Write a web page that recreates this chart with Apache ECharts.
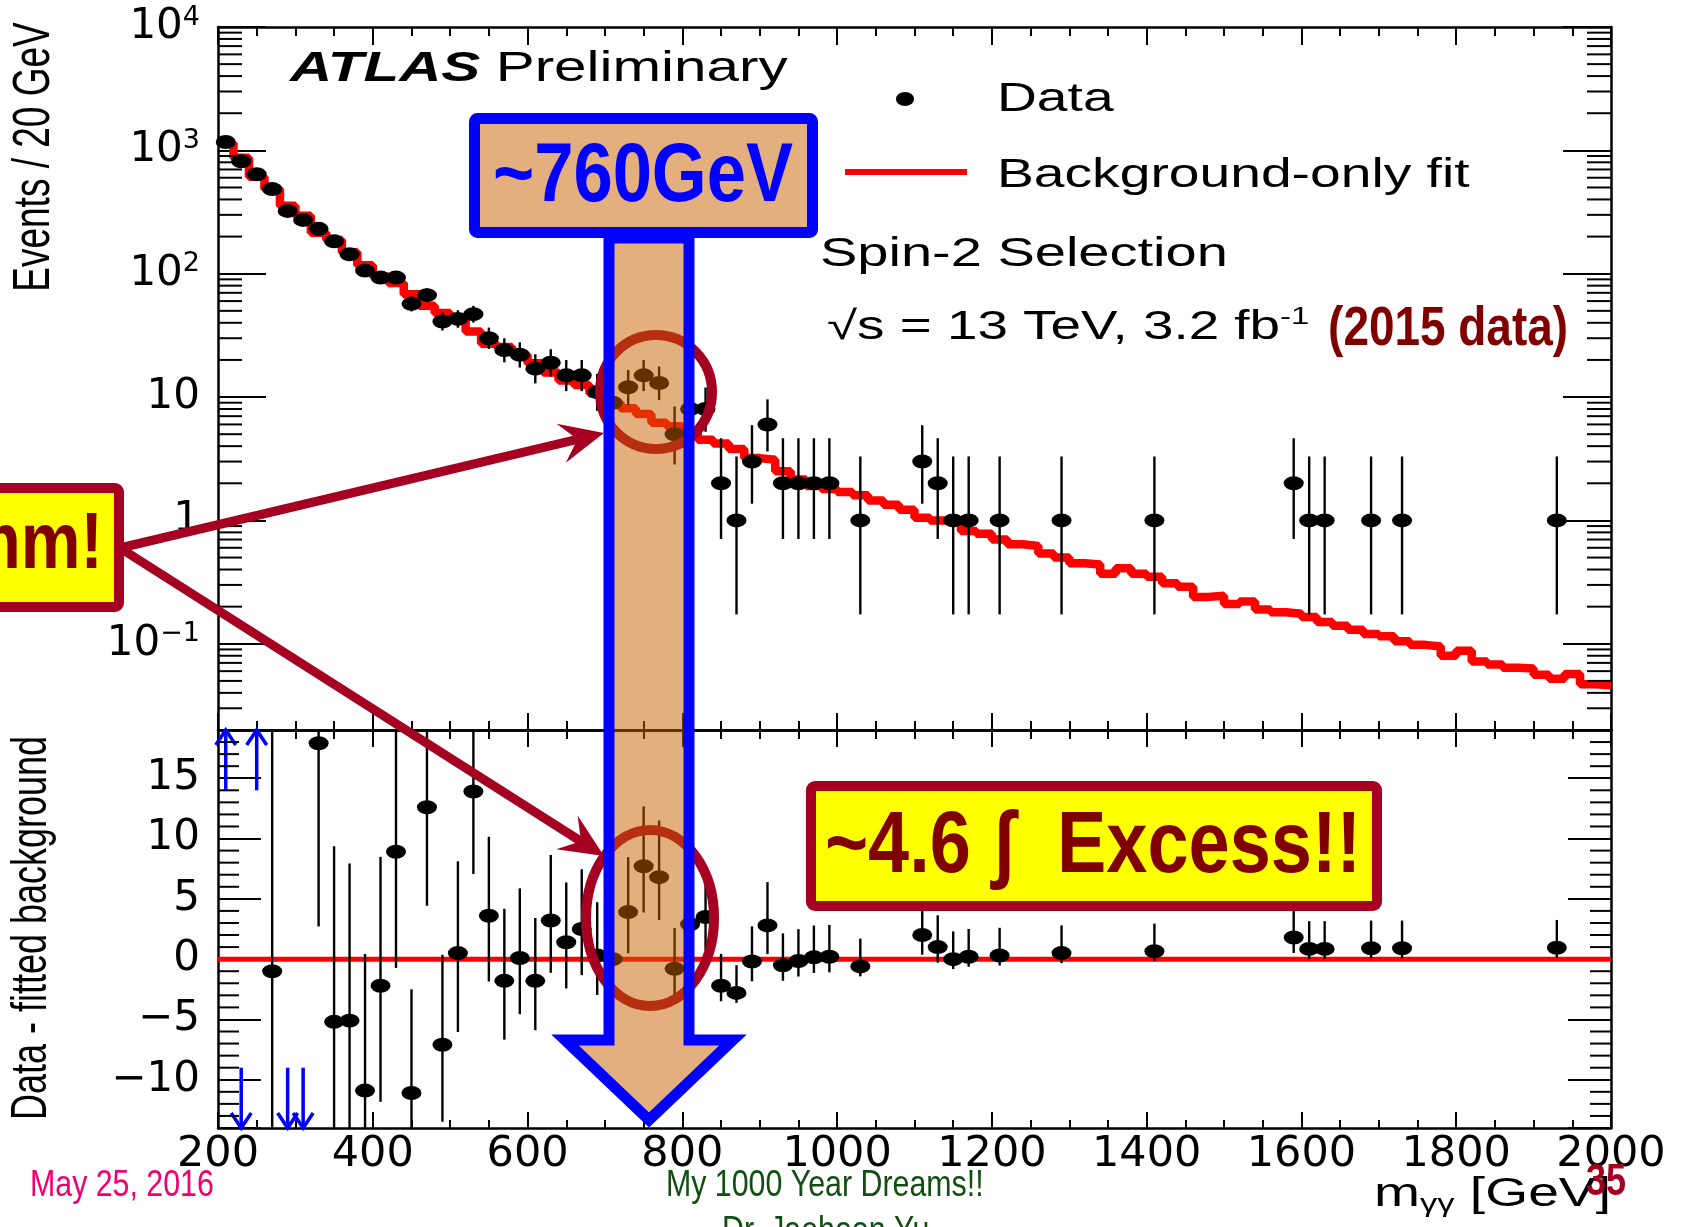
<!DOCTYPE html>
<html>
<head>
<meta charset="utf-8">
<script src="https://cdn.jsdelivr.net/npm/echarts@6/dist/echarts.min.js"></script>
<style>
  html, body { margin: 0; padding: 0; background: #fff; }
  #chart { width: 1684px; height: 1227px; }
</style>
</head>
<body>
<div id="chart"></div>
<script>
// binning of the diphoton mass spectrum
const massMin = 200
const massMax = 2000
const binWidth = 20
const massTicks = [200, 400, 600, 800, 1000, 1200, 1400, 1600, 1800, 2000]

const eventsRange = [0.02, 10000]
const residualRange = [-14, 19]
const residualTicks = [-10, -5, 0, 5, 10, 15]

// non-empty data bins (bin centres, GeV)
const dataMass = [
  210, 230, 250, 270, 290, 310, 330, 350, 370, 390,
  410, 430, 450, 470, 490, 510, 530, 550, 570, 590,
  610, 630, 650, 670, 690, 710, 730, 750, 770, 790,
  810, 830, 850, 870, 890, 910, 930, 950, 970, 990,
  1030, 1110, 1130, 1150, 1170, 1210, 1290, 1410,
  1590, 1610, 1630, 1690, 1730, 1930
]
const dataCounts = [
  1170, 815, 640, 485, 323, 273, 231, 183, 144, 106,
  93, 93, 57, 67, 41, 43, 47, 30, 24, 22,
  17, 19, 15, 15, 11, 9, 12, 15, 13, 5,
  8, 8, 2, 1, 3, 6, 2, 2, 2, 2,
  1, 3, 2, 1, 1, 1, 1, 1,
  2, 1, 1, 1, 1, 1
]
// data - fitted background, same bins
const residuals = [
  30, -55, 30, -1.0, -32, -22, 17.9, -5.2, -5.1, -10.9,
  -2.2, 8.9, -11.1, 12.6, -7.1, 0.5, 13.9, 3.6, -1.8, 0.1,
  -1.8, 3.2, 1.4, 2.5, 0.3, 0.0, 3.9, 7.7, 6.8, -0.8,
  2.9, 3.5, -2.2, -2.8, -0.2, 2.8, -0.5, -0.15, 0.15, 0.2,
  -0.6, 2.0, 1.0, 0.0, 0.2, 0.3, 0.5, 0.65,
  1.8, 0.85, 0.85, 0.9, 0.9, 0.95
]
// background-only fit, one value per 20 GeV bin from 200 to 2000
const fitValues = [
  1140, 870, 610, 486, 355, 295, 215, 188, 149, 117,
  95, 84, 68, 55, 48, 42.5, 34, 27, 25.5, 22,
  18.8, 15.8, 13.6, 12.5, 10.7, 9.0, 8.1, 7.3, 6.2, 5.8,
  5.1, 4.5, 4.2, 3.8, 3.2, 3.1, 2.5, 2.15, 1.9, 1.8,
  1.7, 1.6, 1.45, 1.34, 1.22, 1.05, 1.0, 1.0, 0.82, 0.78,
  0.7, 0.64, 0.62, 0.54, 0.5, 0.45, 0.44, 0.37, 0.41, 0.37,
  0.35, 0.31, 0.29, 0.24, 0.245, 0.21, 0.22, 0.19, 0.18, 0.175,
  0.165, 0.15, 0.14, 0.13, 0.12, 0.115, 0.105, 0.098, 0.095, 0.08,
  0.088, 0.072, 0.068, 0.064, 0.063, 0.056, 0.052, 0.057, 0.047, 0.046
]
// Garwood 68% intervals (down, up) for small counts
const poissonLow = [0, 0.827, 1.292, 1.633, 1.914, 2.159, 2.380, 2.581, 2.768, 2.943, 3.108, 3.265, 3.415, 3.559, 3.697, 3.830]
const poissonHigh = [1.841, 2.300, 2.638, 2.918, 3.162, 3.382, 3.583, 3.770, 3.945, 4.110, 4.266, 4.416, 4.560, 4.698, 4.831, 4.960]

const tickFont = 'DejaVu Sans'
const textFont = 'Liberation Sans'
const darkRed = '#a50021'
const textRed = '#800000'
const blue = '#0000ff'
const barFill = 'rgba(200, 95, 0, 0.5)'

function poissonErr(n) {
  if (n < poissonLow.length) return [poissonLow[n], poissonHigh[n]]
  return [Math.sqrt(n - 0.25), Math.sqrt(n + 0.75) + 1]
}

let fitSteps = fitValues.map((v, i) => [massMin + i * binWidth, v])
fitSteps.push([massMax, fitValues[fitValues.length - 1]])

let dataPoints = dataMass.map((m, i) => [m, dataCounts[i]])
let dataErrors = dataMass.map((m, i) => {
  let e = poissonErr(dataCounts[i])
  return [m, dataCounts[i] - e[0], dataCounts[i] + e[1]]
})

let inRange = v => v >= residualRange[0] && v <= residualRange[1]
let resPoints = dataMass.map((m, i) => [m, residuals[i]]).filter(p => inRange(p[1]))
let resErrors = dataMass.map((m, i) => {
  let e = poissonErr(dataCounts[i])
  return [m, residuals[i] - e[0], residuals[i] + e[1]]
}).filter((p, i) => inRange(residuals[i]))
let resArrows = dataMass.map((m, i) => [m, residuals[i]]).filter(p => !inRange(p[1]))

// minor ticks on the y axes (log: 2..9 per decade, linear: every unit)
let logMinor = []
for (let e = -2; e <= 3; e++) {
  for (let k = 2; k <= 9; k++) {
    let v = k * Math.pow(10, e)
    if (v > eventsRange[0] && v < eventsRange[1]) logMinor.push([massMin, v])
  }
}
let linMinor = []
for (let v = residualRange[0] + 1; v < residualRange[1]; v++) {
  if (v % 5 !== 0) linMinor.push([massMin, v])
}

function renderSideTicks(len) {
  return function (params, api) {
    let y = api.value(1)
    let a = api.coord([massMin, y])
    let b = api.coord([massMax, y])
    return {
      type: 'group',
      children: [
        { type: 'line', shape: { x1: a[0], y1: a[1], x2: a[0] + len, y2: a[1] }, style: { stroke: '#000', lineWidth: 2 } },
        { type: 'line', shape: { x1: b[0], y1: b[1], x2: b[0] - len, y2: b[1] }, style: { stroke: '#000', lineWidth: 2 } }
      ]
    }
  }
}

function renderErrorBar(lo, hi) {
  return function (params, api) {
    let x = api.value(0)
    let a = api.coord([x, Math.max(api.value(1), lo)])
    let b = api.coord([x, Math.min(api.value(2), hi)])
    return { type: 'line', shape: { x1: a[0], y1: a[1], x2: b[0], y2: b[1] }, style: { stroke: '#000', lineWidth: 2.4 } }
  }
}

// blue arrows for residuals beyond the frame
function renderOffscale(params, api) {
  let x = api.value(0)
  let up = api.value(1) > 0
  let tip = api.coord([x, up ? residualRange[1] : residualRange[0]])
  let tail = api.coord([x, up ? residualRange[1] - 5 : residualRange[0] + 5])
  let d = up ? 1 : -1
  let st = { stroke: blue, lineWidth: 3.5, fill: null }
  return {
    type: 'group',
    children: [
      { type: 'line', shape: { x1: tail[0], y1: tail[1], x2: tip[0], y2: tip[1] }, style: st },
      { type: 'polyline', shape: { points: [[tip[0] - 10, tip[1] + d * 15], [tip[0], tip[1]], [tip[0] + 10, tip[1] + d * 15]] }, style: st }
    ]
  }
}

function logLabel(v) {
  let e = Math.log10(v)
  let k = Math.round(e)
  if (Math.abs(e - k) > 1e-6) return ''
  if (k === 0) return '{b|1}'
  if (k === 1) return '{b|10}'
  return '{b|10}{s|' + (k < 0 ? '\u2212' + (-k) : k) + '}'
}

let tickStyle = { color: '#000', width: 2 }
let frameLine = { onZero: false, lineStyle: { color: '#000', width: 2.5 } }

function massAxis(grid, position, labels, tickLen, minorLen) {
  return {
    type: 'value', gridIndex: grid, position: position,
    min: massMin, max: massMax, interval: 200,
    axisLine: frameLine,
    axisTick: { inside: true, length: tickLen, lineStyle: tickStyle },
    minorTick: { show: true, splitNumber: 4, length: minorLen, lineStyle: tickStyle },
    axisLabel: {
      show: labels, color: '#000', fontFamily: tickFont, fontSize: 43, margin: 5,
      formatter: v => massTicks.includes(v) ? String(v) : ''
    },
    splitLine: { show: false }, minorSplitLine: { show: false }
  }
}

function eventsAxis(position, labels) {
  return {
    type: 'log', logBase: 10, gridIndex: 0, position: position,
    min: eventsRange[0], max: eventsRange[1],
    axisLine: frameLine,
    axisTick: { inside: true, length: 48, lineStyle: tickStyle },
    axisLabel: {
      show: labels, margin: 18, formatter: logLabel,
      rich: {
        b: { fontFamily: tickFont, fontSize: 42, lineHeight: 46, color: '#000' },
        s: { fontFamily: tickFont, fontSize: 27, lineHeight: 27, verticalAlign: 'top', color: '#000' }
      }
    },
    splitLine: { show: false }
  }
}

function residualAxis(position, labels) {
  return {
    type: 'value', gridIndex: 1, position: position,
    min: residualRange[0], max: residualRange[1],
    axisLine: frameLine,
    axisTick: { inside: true, length: 43, lineStyle: tickStyle },
    axisLabel: {
      show: labels, margin: 18, color: '#000', fontFamily: tickFont, fontSize: 42,
      formatter: v => residualTicks.includes(v) ? String(v).replace('-', '\u2212') : ''
    },
    splitLine: { show: false }
  }
}

function arrow(from, to, color, width, z) {
  let dx = to[0] - from[0], dy = to[1] - from[1]
  let len = Math.hypot(dx, dy)
  let ux = dx / len, uy = dy / len, nx = -uy, ny = ux
  let headLen = 44, headHalf = 20
  let base = [to[0] - ux * headLen, to[1] - uy * headLen]
  let notch = [to[0] - ux * headLen * 0.62, to[1] - uy * headLen * 0.62]
  return [
    { type: 'line', z: z, silent: true, shape: { x1: from[0], y1: from[1], x2: notch[0], y2: notch[1] }, style: { stroke: color, lineWidth: width } },
    { type: 'polygon', z: z, silent: true, shape: { points: [to, [base[0] + nx * headHalf, base[1] + ny * headHalf], notch, [base[0] - nx * headHalf, base[1] - ny * headHalf]] }, style: { fill: color } }
  ]
}

function label(x, y, text, style, extra) {
  return Object.assign({
    type: 'text', x: x, y: y, z: 120, silent: true,
    style: Object.assign({
      text: text, fill: '#000', fontFamily: textFont, fontSize: 40,
      textAlign: 'left', align: 'left', textVerticalAlign: 'middle', verticalAlign: 'middle'
    }, style)
  }, extra || {})
}

let graphics = [
  label(290, 69, '{a|ATLAS} {b|Preliminary}', {
    rich: {
      a: { fontFamily: textFont, fontSize: 42, fontWeight: 'bold', fontStyle: 'italic', fill: '#000' },
      b: { fontFamily: textFont, fontSize: 42, fill: '#000' }
    }
  }, { scaleX: 1.39 }),
  { type: 'ellipse', z: 120, silent: true, shape: { cx: 905, cy: 99, rx: 9, ry: 7 }, style: { fill: '#000' } },
  label(997, 100, 'Data', {}, { scaleX: 1.38 }),
  { type: 'line', z: 120, silent: true, shape: { x1: 845, y1: 172, x2: 967, y2: 172 }, style: { stroke: '#ff0000', lineWidth: 6 } },
  label(997, 176, 'Background-only fit', {}, { scaleX: 1.38 }),
  label(820, 255, 'Spin-2 Selection', {}, { scaleX: 1.4 }),
  label(827, 328, '{n|\u221as = 13 TeV, 3.2 fb}{s|-1}', {
    rich: {
      n: { fontFamily: textFont, fontSize: 40, lineHeight: 46, fill: '#000' },
      s: { fontFamily: textFont, fontSize: 24, lineHeight: 26, verticalAlign: 'top', fill: '#000' }
    }
  }, { scaleX: 1.37 }),
  label(1568, 330, '(2015 data)', { fontSize: 56, fontWeight: 'bold', fill: textRed, textAlign: 'right', align: 'right' }, { scaleX: 0.82 }),

  // rings round the excess, under the translucent bar
  { type: 'ellipse', z: 100, silent: true, shape: { cx: 656, cy: 392, rx: 56, ry: 57 }, style: { fill: null, stroke: darkRed, lineWidth: 10 } },
  { type: 'ellipse', z: 100, silent: true, shape: { cx: 650, cy: 918, rx: 64, ry: 88 }, style: { fill: null, stroke: darkRed, lineWidth: 10 } },

  // blue-framed mass band arrow
  {
    type: 'polygon', z: 101, silent: true,
    shape: { points: [[609, 238], [609, 1040], [565, 1040], [649, 1120], [733, 1040], [689, 1040], [689, 238]] },
    style: { fill: barFill, stroke: blue, lineWidth: 11, lineJoin: 'miter' }
  },
  { type: 'rect', z: 101, silent: true, shape: { x: 474.5, y: 118.5, width: 338, height: 114, r: 3 }, style: { fill: barFill, stroke: blue, lineWidth: 11 } },
  label(643, 178, '~760GeV', { fontSize: 84, fontWeight: 'bold', fill: blue, textAlign: 'center', align: 'center' }, { scaleX: 0.84 })
]

graphics = graphics.concat(arrow([120, 548], [604, 433], darkRed, 9, 102))
graphics = graphics.concat(arrow([120, 548], [604, 856], darkRed, 9, 102))

graphics = graphics.concat([
  { type: 'rect', z: 103, silent: true, shape: { x: -20, y: 488, width: 139, height: 119, r: 4 }, style: { fill: '#ffff00', stroke: darkRed, lineWidth: 10 } },
  label(103, 546, 'Hmm!', { fontSize: 80, fontWeight: 'bold', fill: textRed, textAlign: 'right', align: 'right' }, { scaleX: 0.84, z: 104 }),
  { type: 'rect', z: 103, silent: true, shape: { x: 811, y: 786, width: 566, height: 120, r: 4 }, style: { fill: '#ffff00', stroke: darkRed, lineWidth: 10 } },
  label(1093, 848, '~4.6 \u0283  Excess!!', { fontSize: 88, fontWeight: 'bold', fill: textRed, textAlign: 'center', align: 'center' }, { scaleX: 0.84, z: 104 }),

  // axis titles
  label(35, 157, 'Events / 20 GeV', { fontSize: 37, textAlign: 'center', align: 'center' }, { rotation: Math.PI / 2, scaleY: 1.38 }),
  label(32, 928, 'Data - fitted background', { fontSize: 36, textAlign: 'center', align: 'center' }, { rotation: Math.PI / 2, scaleY: 1.38 }),
  label(1611, 1195, '{m|m}{g|\u03b3\u03b3}{m| [GeV]}', {
    textAlign: 'right', align: 'right',
    rich: {
      m: { fontFamily: textFont, fontSize: 40, lineHeight: 46, fill: '#000' },
      g: { fontFamily: textFont, fontSize: 25, lineHeight: 25, verticalAlign: 'bottom', fill: '#000' }
    }
  }, { scaleX: 1.38 }),

  // slide footer
  label(30, 1186, 'May 25, 2016', { fontSize: 37, fill: '#f0006e' }, { scaleX: 0.82 }),
  label(666, 1186, 'My 1000 Year Dreams!!', { fontSize: 37, fill: '#124d12' }, { scaleX: 0.82 }),
  label(722, 1232, 'Dr. Jaehoon Yu', { fontSize: 37, fill: '#124d12' }, { scaleX: 0.82 }),
  label(1606, 1183, '35', { fontSize: 44, fontWeight: 'bold', fill: darkRed, textAlign: 'center', align: 'center' }, { scaleX: 0.82, z: 125 })
])

let chart = echarts.init(document.getElementById('chart'))

chart.setOption({
  animation: false,
  backgroundColor: '#fff',
  grid: [
    { left: 218, right: 73, top: 27, height: 703 },
    { left: 218, right: 73, top: 730, height: 398 }
  ],
  xAxis: [
    massAxis(0, 'bottom', false, 17, 9),
    massAxis(0, 'top', false, 18, 9),
    massAxis(1, 'bottom', true, 16, 8),
    massAxis(1, 'top', false, 17, 9)
  ],
  yAxis: [
    eventsAxis('left', true),
    eventsAxis('right', false),
    residualAxis('left', true),
    residualAxis('right', false)
  ],
  series: [
    {
      name: 'Background-only fit', type: 'line', xAxisIndex: 0, yAxisIndex: 0,
      data: fitSteps, step: 'end', symbol: 'none', silent: true, z: 3,
      lineStyle: { color: '#ff0000', width: 8.5 }, itemStyle: { color: '#ff0000' }
    },
    {
      type: 'custom', xAxisIndex: 0, yAxisIndex: 0, data: dataErrors, silent: true, z: 4,
      encode: { x: 0, y: [1, 2] }, renderItem: renderErrorBar(eventsRange[0], eventsRange[1])
    },
    {
      name: 'Data', type: 'scatter', xAxisIndex: 0, yAxisIndex: 0, data: dataPoints, silent: true, z: 5,
      symbol: 'circle', symbolSize: [20, 14], itemStyle: { color: '#000', opacity: 1 }
    },
    {
      type: 'custom', xAxisIndex: 0, yAxisIndex: 0, data: logMinor, silent: true, z: 6,
      renderItem: renderSideTicks(24)
    },
    {
      type: 'line', xAxisIndex: 2, yAxisIndex: 2, data: [[massMin, 0], [massMax, 0]], symbol: 'none', silent: true, z: 3,
      lineStyle: { color: '#ff0000', width: 5 }
    },
    {
      type: 'custom', xAxisIndex: 2, yAxisIndex: 2, data: resErrors, silent: true, z: 4,
      encode: { x: 0, y: [1, 2] }, renderItem: renderErrorBar(residualRange[0], residualRange[1])
    },
    {
      type: 'scatter', xAxisIndex: 2, yAxisIndex: 2, data: resPoints, silent: true, z: 5,
      symbol: 'circle', symbolSize: [20, 14], itemStyle: { color: '#000', opacity: 1 }
    },
    {
      type: 'custom', xAxisIndex: 2, yAxisIndex: 2, data: resArrows, silent: true, z: 5,
      renderItem: renderOffscale
    },
    {
      type: 'custom', xAxisIndex: 2, yAxisIndex: 2, data: linMinor, silent: true, z: 6,
      renderItem: renderSideTicks(21)
    }
  ],
  graphic: { elements: graphics }
})
</script>
</body>
</html>
